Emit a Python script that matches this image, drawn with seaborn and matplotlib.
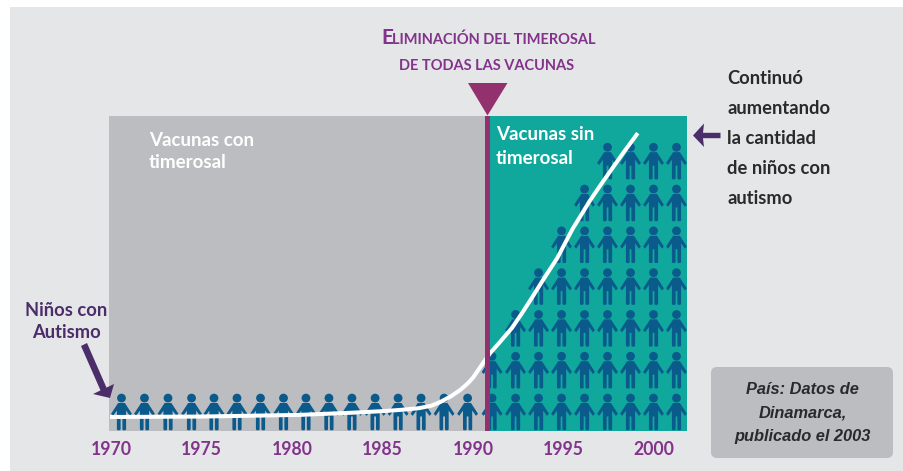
import numpy as np
import pandas as pd
import seaborn as sns
import matplotlib
matplotlib.use("Agg")
import matplotlib.pyplot as plt
from matplotlib.path import Path
from matplotlib.patches import Polygon, Rectangle, FancyBboxPatch
from matplotlib.transforms import Affine2D

# ---- data ----
tick_years = [1970, 1975, 1980, 1985, 1990, 1995, 2000]
column_years = [1970.58, 1971.85, 1973.15, 1974.45, 1975.69, 1976.96, 1978.26, 1979.53,
                1980.77, 1982.04, 1983.31, 1984.59, 1985.86, 1987.13, 1988.40, 1989.70,
                1991.05, 1992.35, 1993.62, 1994.89, 1996.16, 1997.43, 1998.70, 1999.97, 2001.24]
column_counts = [1, 1, 1, 1, 1, 1, 1, 1, 1, 1, 1, 1, 1, 1, 1, 1,
                 2, 3, 4, 5, 6, 7, 7, 7, 7]
curve_years = [1969.95, 1974.9, 1980.4, 1983.2, 1985.0, 1986.0, 1987.0, 1987.7, 1988.2, 1988.8, 1989.3,
               1989.7, 1990.0, 1990.55, 1990.95, 1991.5, 1992.15, 1992.7, 1993.25, 1993.9, 1994.65,
               1995.5, 1996.45, 1997.0, 1997.55, 1998.3, 1999.1]
curve_values = [0.88, 0.89, 0.93, 0.98, 1.02, 1.05, 1.09, 1.15, 1.24, 1.38, 1.53,
                1.68, 1.82, 2.17, 2.41, 2.68, 3.01, 3.36, 3.73, 4.18, 4.68,
                5.38, 6.05, 6.40, 6.74, 7.20, 7.67]
removal_year = 1990.8

PURPLE = "#82338A"
BAR = "#93306E"
ARROW = "#4B2E69"
GRAY = "#BCBDC0"
TEAL = "#10A89C"
BLUE = "#0B5A8C"
BG = "#E5E6E8"
DARK = "#2A2A2C"
FONT = ["Lato", "DejaVu Sans"]

sns.set_theme(style="white")
plt.rcParams["font.family"] = FONT

W, H = 904, 471
fig = plt.figure(figsize=(W / 100, H / 100), dpi=100, facecolor="white")
T = Affine2D().scale(1, -1).translate(0, H)  # pixel helper for annotations
fig.add_artist(Rectangle((10, 7), W - 10, H - 7, transform=T, fc=BG, ec="none", zorder=-5))

ax = fig.add_axes([109 / W, 1 - 431 / H, (687 - 109) / W, (431 - 116) / H])
ax.set_facecolor("none")
ax.set_xlim(1969.89, 2001.82)
ax.set_ylim(0.545, 8.08)

ax.axvspan(1969.89, removal_year, color=GRAY, lw=0, zorder=0)
ax.axvspan(removal_year, 2001.82, color=TEAL, lw=0, zorder=0)

# person-shaped marker
body = [(0, 9.0), (3.4, 9.0), (10.4, -1.8), (8.4, -3.9), (4.6, 1.4), (4.6, -17.4), (3.8, -18.3),
        (1.7, -18.3), (0.9, -17.4), (0.9, -4.5), (-0.9, -4.5), (-0.9, -17.4), (-1.7, -18.3), (-3.8, -18.3),
        (-4.6, -17.4), (-4.6, 1.4), (-8.4, -3.9), (-10.4, -1.8), (-3.4, 9.0), (0, 9.0)]
head = Path.circle((0, 13.9), 4.4)
person = Path.make_compound_path(head, Path(body, closed=True))

people = pd.DataFrame(
    [(yr, lvl) for yr, n in zip(column_years, column_counts) for lvl in range(1, n + 1)],
    columns=["year", "level"],
)
sns.scatterplot(data=people, x="year", y="level", marker=person, s=694, color=BLUE,
                linewidth=0, edgecolor="none", ax=ax, zorder=2, legend=False, clip_on=False)

curve = pd.DataFrame({"year": curve_years, "value": curve_values})
sns.lineplot(data=curve, x="year", y="value", color="white", lw=2.9, sort=False,
             errorbar=None, ax=ax, zorder=3, solid_capstyle="butt", legend=False)

ax.axvspan(removal_year - 0.14, removal_year + 0.14, color=BAR, lw=0, zorder=4)

ax.set_xticks(tick_years)
ax.set_xticklabels([str(y) for y in tick_years], fontsize=12.7, fontweight="bold", color=PURPLE)
ax.set_yticks([])
ax.set_xlabel("")
ax.set_ylabel("")
ax.tick_params(axis="x", length=0, pad=7)
sns.despine(ax=ax, left=True, bottom=True)

# annotations
def txt(x, y, s, **kw):
    kw.setdefault("fontweight", "bold")
    kw.setdefault("va", "center")
    fig.text(x, y, s, transform=T, **kw)

txt(149, 141, "Vacunas con", color="white", fontsize=13.5)
txt(149, 163, "timerosal", color="white", fontsize=13.5)
txt(496, 135, "Vacunas sin", color="white", fontsize=13.5)
txt(496, 159, "timerosal", color="white", fontsize=13.5)

txt(66, 310, "Niños con", color=ARROW, fontsize=13.2, ha="center")
txt(66, 333, "Autismo", color=ARROW, fontsize=13.2, ha="center")

for y, s in zip([78, 108, 138.5, 168.5, 198],
                ["Continuó", "aumentando", "la cantidad", "de niños con", "autismo"]):
    txt(727, y, s, color=DARK, fontsize=13.2)

txt(381, 43.5, "E", color=PURPLE, fontsize=15, va="baseline")
txt(392, 43.5, "LIMINACIÓN DEL TIMEROSAL", color=PURPLE, fontsize=10.5, va="baseline")
txt(487, 70.5, "DE TODAS LAS VACUNAS", color=PURPLE, fontsize=10.5, va="baseline", ha="center")

fig.add_artist(Polygon([(468, 83), (507.5, 83), (487.5, 115.5)], closed=True, transform=T,
                       fc=BAR, ec="none", zorder=5))
fig.add_artist(Polygon([(81, 346), (87, 343), (106.5, 387.6), (114, 384), (110, 398), (93, 394),
                        (100.5, 390.4)], closed=True, transform=T, fc=ARROW, ec="none", zorder=5))
fig.add_artist(Polygon([(693, 135.5), (704, 123.5), (703, 132.8), (720.5, 132.8), (720.5, 138.2),
                        (703, 138.2), (704, 147)], closed=True, transform=T, fc=ARROW, ec="none", zorder=5))

fig.add_artist(FancyBboxPatch((716, 372), 172, 81, boxstyle="round,pad=5,rounding_size=6",
                              transform=T, fc="#BCBDC0", ec="none", zorder=1))
for y, s in zip([390, 413, 436], ["País: Datos de", "Dinamarca,", "publicado el 2003"]):
    txt(802.5, y, s, color=DARK, fontsize=11.8, ha="center", fontstyle="italic",
        family=["Liberation Sans", "DejaVu Sans"])

fig.savefig("out.png", dpi=100, facecolor="white")
